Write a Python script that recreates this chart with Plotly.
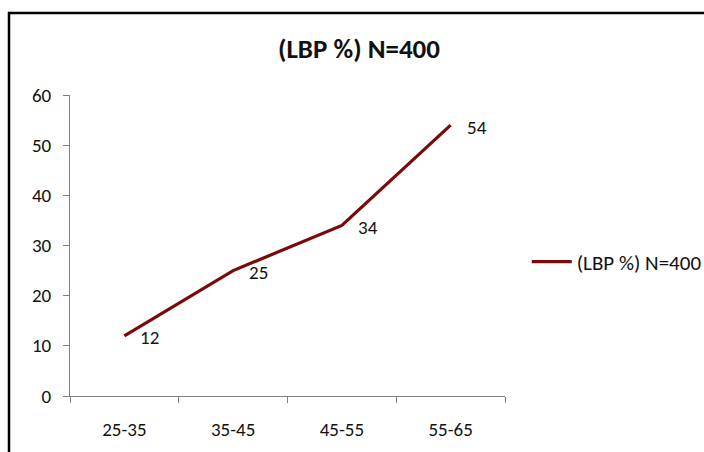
import plotly.graph_objects as go

# Age groups and the share of low back pain (%) in each, N=400
age_groups = ["25-35", "35-45", "45-55", "55-65"]
lbp_percent = [12, 25, 34, 54]
series_name = "(LBP %) N=400"
y_ticks = [0, 10, 20, 30, 40, 50, 60]

line_color = "#7A0A0A"
font_family = "Carlito, Lato, sans-serif"

fig = go.Figure()
fig.add_trace(go.Scatter(
    x=age_groups,
    y=lbp_percent,
    mode="lines",
    name=series_name,
    line=dict(color=line_color, width=3.2),
))

# value labels to the right of each point
for cat, val in zip(age_groups, lbp_percent):
    fig.add_annotation(
        x=cat, y=val, text=str(val), showarrow=False,
        xanchor="left", yanchor="middle", xshift=14, yshift=-2,
        font=dict(family=font_family, size=19, color="#111111"),
    )

# left and top frame edges around the chart
fig.add_shape(
    type="rect", xref="paper", yref="paper",
    x0=(9 - 70) / 435, x1=(720 - 70) / 435,
    y0=(396 - 470) / 301, y1=1 + (95 - 13) / 301,
    line=dict(color="black", width=2.5), layer="above",
)

fig.update_layout(
    width=704, height=452,
    margin=dict(l=70, r=199, t=95, b=56, autoexpand=False),
    paper_bgcolor="white", plot_bgcolor="white",
    font=dict(family=font_family, size=19, color="#111111"),
    title=dict(
        text="<b>" + series_name + "</b>",
        x=(359 - 70) / 435, xref="paper", xanchor="center",
        y=1 - 49 / 452, yref="container", yanchor="middle",
        font=dict(family=font_family, size=27, color="#111111"),
    ),
    showlegend=True,
    legend=dict(
        x=1.05, y=0.445, xanchor="left", yanchor="middle",
        font=dict(family=font_family, size=21, color="#111111"),
        bgcolor="rgba(0,0,0,0)", itemwidth=40,
    ),
)

fig.update_xaxes(
    type="category", range=[-0.5, 3.5],
    showline=True, linecolor="#808080", linewidth=1,
    ticks="outside", tickson="boundaries", ticklen=6, tickcolor="#808080",
    showgrid=False, zeroline=False,
    tickfont=dict(family=font_family, size=19, color="#111111"),
    ticklabelstandoff=16,
)
fig.update_yaxes(
    range=[0, 60], tickvals=y_ticks,
    showline=True, linecolor="#808080", linewidth=1,
    ticks="outside", ticklen=6, tickcolor="#808080",
    showgrid=False, zeroline=False,
    tickfont=dict(family=font_family, size=19, color="#111111"),
    ticklabelstandoff=8,
)

fig.write_html("out.html")
